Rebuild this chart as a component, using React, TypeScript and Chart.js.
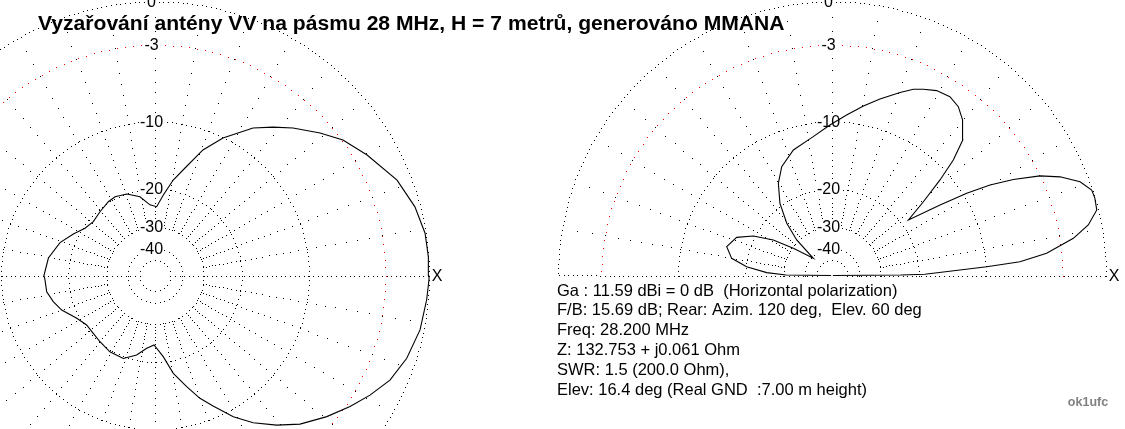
import React, { useEffect, useRef } from 'react';
import { Chart, registerables } from 'chart.js';

Chart.register(...registerables);

const W = 1125;
const H = 429;

// Azimuth pattern (MMANA, 0 dB = 11.59 dBi), angle in degrees, gain in dB
const AZ_ANGLES = [
  0, 3.9, 8.9, 14.8, 21.5, 29.6, 35.8, 40.8, 46.9, 51.5, 56.4, 63.7, 69.1, 74.4, 79.2, 84.1, 88.6,
  94.1, 100.8, 109.1, 116.9, 122.3, 130.8, 138.9, 146, 153.1, 160.9, 170.7, 180,
  182.3, 188.5, 194.4, 200.3, 208.7, 215.9, 223.1, 230.3, 239.4, 249.1, 257.0, 263.5, 269.2,
  275.8, 280.6, 285.9, 290.1, 294.0, 299.0, 303.7, 309.1, 314.3, 320.6, 326.1, 330.9, 336.0,
  341.8, 348.4, 354.9, 359.1, 360,
];
const AZ_GAINS = [
  0, 0, -0.04, -0.33, -0.9, -2.02, -2.91, -3.97, -5.3, -6.4, -7.58, -10.08, -12.38, -15.6, -18.0, -21.2, -24.0,
  -23.5, -21.35, -20.07, -19.66, -19.87, -20.5, -20.98, -20.45, -19.04, -17.42, -16.17, -15.69,
  -15.84, -15.93, -16.66, -17.6, -19.5, -20.45, -20.42, -20.11, -19.6, -19.57, -21.05, -22.93, -23.84,
  -21.05, -17.6, -14.99, -12.85, -11.32, -9.18, -7.59, -6.1, -4.82, -3.63, -2.67, -1.87, -1.1,
  -0.58, -0.22, -0.08, 0, 0,
];

// Elevation pattern, angle in degrees above ground (0 = toward X), gain in dB
const EL_ANGLES = [
  0, 0.4, 0.74, 3.26, 4.2, 5.9, 8.76, 11.15, 13.9, 16.4, 18.2, 20.7, 23.4, 25.6, 27.9, 29.8, 31.4,
  33.1, 36.0, 38.9, 41.5, 43.6, 46.0, 50.0, 53.2, 56.6, 60.5, 63.9, 66.4, 69.6, 74.8, 79.5, 84.8,
  90.8, 97.7, 99.9, 107.1, 114.8, 120.2, 125.8, 130.9, 134.8, 137.4, 144.9, 148.8, 153.3, 158.2,
  164.7, 170.3, 174.1, 177.5, 179.3, 180,
];
const EL_GAINS = [
  -99, -24, -18.8, -9.9, -6.5, -4.15, -2.0, -0.83, -0.08, 0, -0.04, -0.57, -1.7, -3.0, -5.02, -7.1, -9.58,
  -13.09, -18.5, -14.72, -11.15, -8.55, -6.52, -5.2, -4.55, -4.28, -4.42, -4.84, -5.19, -5.89, -7.02, -8.05, -9.22,
  -10.4, -11.65, -11.96, -12.78, -14.36, -16.39, -19.54, -23.93, -29.52, -41.3, -30.5, -24.05, -19.72, -17.05,
  -15.99, -17.2, -20.17, -24.9, -31, -99,
];

const RING_DB = [0, -3, -10, -20, -30, -40, -50];
const RING_LABELS = ['0', '-3', '-10', '-20', '-30', '-40', ''];
const SPOKE_STEP_DEG = 10;
const SPOKE_MIN_DB = -30;
const AXIS_MIN_DB = -50;

const TITLE = 'Vyzařování antény VV na pásmu 28 MHz, H = 7 metrů, generováno MMANA';
const INFO_LINES = [
  'Ga : 11.59 dBi = 0 dB  (Horizontal polarization)',
  'F/B: 15.69 dB; Rear: Azim. 120 deg,  Elev. 60 deg',
  'Freq: 28.200 MHz',
  'Z: 132.753 + j0.061 Ohm',
  'SWR: 1.5 (200.0 Ohm),',
  'Elev: 16.4 deg (Real GND  :7.00 m height)',
];
const SIGNATURE = 'ok1ufc';
const AXIS_MARK = 'X';

// layout (pixels)
const R_PX = 274;
const LEFT_CX_PX = 155;
const RIGHT_CX_PX = 832;
const CY_PX = 275.5;

const X_MIN = -LEFT_CX_PX / R_PX;
const X_MAX = (W - LEFT_CX_PX) / R_PX;
const Y_MIN = -(H - CY_PX) / R_PX;
const Y_MAX = CY_PX / R_PX;
const RIGHT_CX = (RIGHT_CX_PX - LEFT_CX_PX) / R_PX;

const FONT = '"Liberation Sans", Arial, sans-serif';

const rel = (db: number) => Math.pow(10, db / 40);

function toXY(angles: number[], gains: number[], cx: number) {
  return angles.map((a, i) => {
    const r = rel(Math.max(gains[i], -120));
    const t = (a * Math.PI) / 180;
    return { x: cx + r * Math.cos(t), y: r * Math.sin(t) };
  });
}

const PLOTS = [
  { cx: 0, full: true },
  { cx: RIGHT_CX, full: false },
];

const gridPlugin = {
  id: 'mmanaGrid',
  beforeDraw(chart: any) {
    const ctx = chart.ctx;
    ctx.save();
    ctx.fillStyle = '#ffffff';
    ctx.fillRect(0, 0, chart.width, chart.height);
    ctx.restore();
  },
  beforeDatasetsDraw(chart: any) {
    const { ctx } = chart;
    const xs = chart.scales.x;
    const ys = chart.scales.y;
    const unit = xs.getPixelForValue(1) - xs.getPixelForValue(0);
    ctx.save();
    const dot = (x: number, y: number) => ctx.fillRect(Math.round(x), Math.round(y), 1, 1);
    PLOTS.forEach((p) => {
      const cx = xs.getPixelForValue(p.cx);
      const cy = ys.getPixelForValue(0);
      // rings
      RING_DB.forEach((db) => {
        const r = unit * rel(db);
        const red = db === -3;
        ctx.fillStyle = red ? '#ff0000' : '#000000';
        const spacing = red ? 8 : 4.8;
        const n = Math.max(8, Math.round((2 * Math.PI * r) / spacing));
        for (let k = 0; k < n; k++) {
          const a = (2 * Math.PI * k) / n;
          if (!p.full && Math.sin(a) < -1e-6) continue;
          dot(cx + r * Math.cos(a), cy - r * Math.sin(a));
        }
      });
      // spokes
      ctx.fillStyle = '#000000';
      const maxA = p.full ? 359 : 180;
      for (let a = 0; a <= maxA; a += SPOKE_STEP_DEG) {
        const t = (a * Math.PI) / 180;
        const horizontal = a % 180 === 0;
        if (horizontal) {
          const r0 = unit * rel(AXIS_MIN_DB);
          for (let r = r0; r < unit; r += 4.6) {
            dot(cx + r * Math.cos(t), cy - r * Math.sin(t));
          }
          continue;
        }
        for (let db = SPOKE_MIN_DB; db < 0; db++) {
          const r = unit * rel(db);
          dot(cx + r * Math.cos(t), cy - r * Math.sin(t));
        }
      }
      // ring labels
      ctx.font = `16px ${FONT}`;
      ctx.textAlign = 'center';
      ctx.textBaseline = 'middle';
      RING_DB.forEach((db, i) => {
        const label = RING_LABELS[i];
        if (!label) return;
        const r = unit * rel(db);
        const tx = cx - 3.5;
        const ty = cy - r;
        const w = ctx.measureText(label).width;
        ctx.fillStyle = '#ffffff';
        ctx.fillRect(tx - w / 2 - 1, ty - 7, w + 2, 14);
        ctx.fillStyle = '#000000';
        ctx.fillText(label, tx, ty + 1);
      });
      // X mark
      ctx.fillText(AXIS_MARK, cx + unit + 8, cy + 1);
    });
    ctx.restore();
  },
  afterDraw(chart: any) {
    const { ctx } = chart;
    ctx.save();
    ctx.fillStyle = '#000000';
    ctx.textAlign = 'left';
    ctx.textBaseline = 'alphabetic';
    ctx.font = `bold 21.1px ${FONT}`;
    ctx.fillText(TITLE, 38, 30);
    ctx.font = `16.5px ${FONT}`;
    INFO_LINES.forEach((line, i) => {
      ctx.fillText(line, 557, 295.5 + i * 19.9);
    });
    ctx.font = `bold 12.5px ${FONT}`;
    ctx.fillStyle = '#808080';
    ctx.textAlign = 'center';
    ctx.fillText(SIGNATURE, 1088, 406);
    ctx.restore();
  },
};

export default function App() {
  const ref = useRef<HTMLCanvasElement | null>(null);
  useEffect(() => {
    if (!ref.current) return;
    const chart = new Chart(ref.current, {
      type: 'scatter',
      data: {
        datasets: [
          {
            label: 'Azimuth',
            data: toXY(AZ_ANGLES, AZ_GAINS, 0),
            showLine: true,
            borderColor: '#000000',
            borderWidth: 1.1,
            pointRadius: 0,
            tension: 0,
          },
          {
            label: 'Elevation',
            data: toXY(EL_ANGLES, EL_GAINS, RIGHT_CX),
            showLine: true,
            borderColor: '#000000',
            borderWidth: 1.1,
            pointRadius: 0,
            tension: 0,
          },
        ],
      },
      options: {
        animation: false,
        responsive: false,
        devicePixelRatio: 1,
        events: [],
        layout: { padding: 0 },
        plugins: { legend: { display: false }, tooltip: { enabled: false }, title: { display: false } },
        scales: {
          x: { type: 'linear', min: X_MIN, max: X_MAX, display: false },
          y: { type: 'linear', min: Y_MIN, max: Y_MAX, display: false },
        },
      },
      plugins: [gridPlugin],
    });
    return () => chart.destroy();
  }, []);
  return (
    <div style={{ position: 'absolute', left: 0, top: 0, width: W, height: H, background: '#fff' }}>
      <canvas ref={ref} width={W} height={H} style={{ width: W, height: H, display: 'block' }} />
    </div>
  );
}
